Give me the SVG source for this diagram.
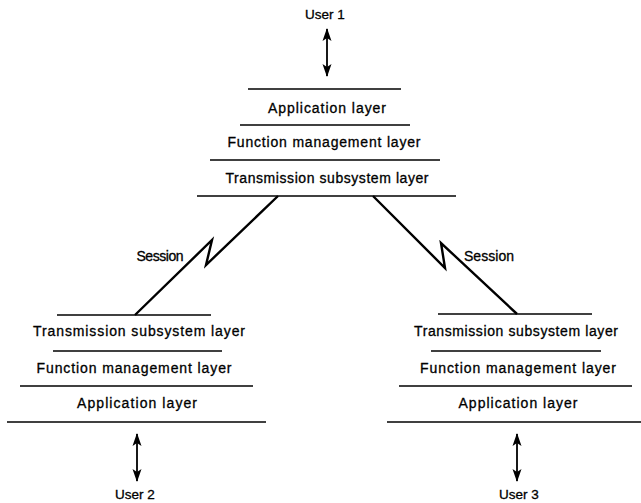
<svg xmlns="http://www.w3.org/2000/svg" width="641" height="503" viewBox="0 0 641 503">
<style>
text{font-family:"Liberation Sans",Arial,Helvetica,sans-serif;font-size:14px;fill:#000;stroke:#000;stroke-width:0.3;text-anchor:middle}
text.user{font-size:13.5px}
.rule{stroke:#000;stroke-width:1.6;fill:none}
.conn{stroke:#000;stroke-width:2.4;fill:none;stroke-linejoin:miter}
.arr{stroke:#000;stroke-width:1.8;fill:none}
</style>
<defs>
<marker id="ah" markerUnits="userSpaceOnUse" markerWidth="14" markerHeight="10" refX="12" refY="4.5" orient="auto-start-reverse" viewBox="0 0 14 9">
<path d="M0,0 L13,4.5 L0,9 L3,4.5 z" fill="#000"/>
</marker>
</defs>
<rect width="641" height="503" fill="#fff"/>

<g id="user1"><text class="user" x="325" y="19">User 1</text></g>
<g id="stack-top">
  <g id="top-application"><line class="rule" x1="248" y1="89" x2="401" y2="89"/><text x="327" y="113" textLength="118" lengthAdjust="spacing">Application layer</text></g>
  <g id="top-function"><line class="rule" x1="240" y1="125" x2="410" y2="125"/><text x="324" y="147" textLength="193" lengthAdjust="spacing">Function management layer</text></g>
  <g id="top-transmission"><line class="rule" x1="210" y1="160" x2="440" y2="160"/><text x="327" y="183" textLength="203" lengthAdjust="spacing">Transmission subsystem layer</text><line class="rule" x1="197" y1="196" x2="456" y2="196"/></g>
</g>

<g id="stack-left">
  <g id="left-transmission"><line class="rule" x1="57" y1="315" x2="211" y2="315"/><text x="139" y="336" textLength="212" lengthAdjust="spacing">Transmission subsystem layer</text></g>
  <g id="left-function"><line class="rule" x1="53" y1="351" x2="222" y2="351"/><text x="134" y="373" textLength="195" lengthAdjust="spacing">Function management layer</text></g>
  <g id="left-application"><line class="rule" x1="20" y1="386" x2="253" y2="386"/><text x="137" y="408" textLength="120" lengthAdjust="spacing">Application layer</text><line class="rule" x1="7" y1="422" x2="266" y2="422"/></g>
</g>
<g id="user2"><text class="user" x="135" y="499">User 2</text></g>

<g id="stack-right">
  <g id="right-transmission"><line class="rule" x1="438" y1="314" x2="592" y2="314"/><text x="516" y="336" textLength="204" lengthAdjust="spacing">Transmission subsystem layer</text></g>
  <g id="right-function"><line class="rule" x1="431" y1="351" x2="601" y2="351"/><text x="518" y="373" textLength="196" lengthAdjust="spacing">Function management layer</text></g>
  <g id="right-application"><line class="rule" x1="399" y1="386" x2="632" y2="386"/><text x="518" y="408" textLength="119" lengthAdjust="spacing">Application layer</text><line class="rule" x1="387" y1="422" x2="641" y2="422"/></g>
</g>
<g id="user3"><text class="user" x="519" y="499">User 3</text></g>

<g id="connectors">
  <path class="conn" d="M278,196 L206,265 L212,240 L135,315"/>
  <text x="160" y="261" textLength="47" lengthAdjust="spacing">Session</text>
  <path class="conn" d="M373,196 L445,268 L441,243 L517,314"/>
  <text x="489" y="261" textLength="50" lengthAdjust="spacing">Session</text>
  <line class="arr" x1="327" y1="29" x2="327" y2="76" marker-start="url(#ah)" marker-end="url(#ah)"/>
  <line class="arr" x1="137" y1="434" x2="137" y2="481" marker-start="url(#ah)" marker-end="url(#ah)"/>
  <line class="arr" x1="517" y1="434" x2="517" y2="481" marker-start="url(#ah)" marker-end="url(#ah)"/>
</g>
</svg>
